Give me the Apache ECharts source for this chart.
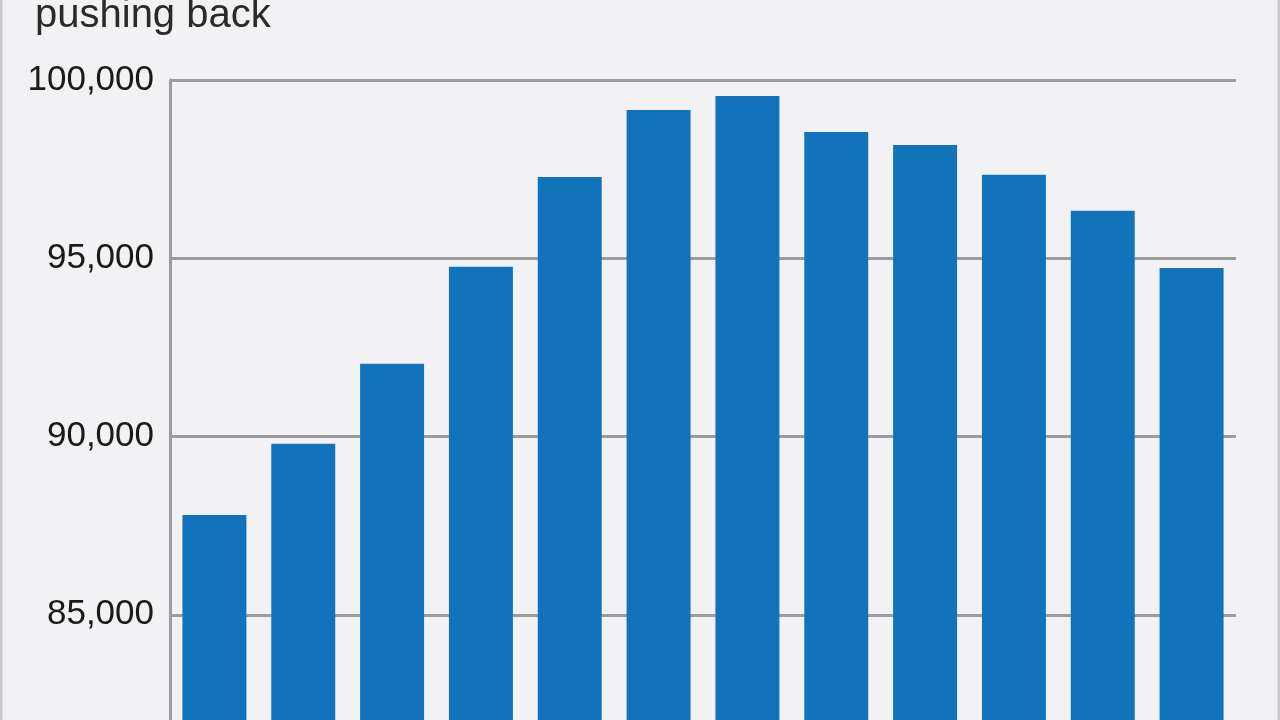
<!DOCTYPE html>
<html>
<head>
<meta charset="utf-8">
<style>
  html, body { margin: 0; padding: 0; background: #f2f2f4; }
  #chart { width: 1280px; height: 720px; }
</style>
<script src="https://cdn.jsdelivr.net/npm/echarts@6/dist/echarts.min.js"></script>
</head>
<body>
<div id="chart"></div>
<script>
const titleText = 'pushing back';
const categories = ['1', '2', '3', '4', '5', '6', '7', '8', '9', '10', '11', '12'];
const values = [87800, 89800, 92040, 94760, 97280, 99160, 99550, 98540, 98180, 97340, 96330, 94730];
const yMin = 80000;
const yMax = 100000;
const yStep = 5000;

const chart = echarts.init(document.getElementById('chart'), null, { renderer: 'canvas' });
chart.setOption({
  backgroundColor: '#f2f2f4',
  animation: false,
  title: {
    text: titleText,
    left: 35,
    top: -4,
    padding: 0,
    textStyle: {
      fontFamily: 'Liberation Sans',
      fontSize: 40,
      fontWeight: 'normal',
      color: '#2a2a2a'
    }
  },
  graphic: [
    { type: 'line', shape: { x1: 1, y1: 0, x2: 1, y2: 720 }, style: { stroke: '#c9c9cc', lineWidth: 3 } },
    { type: 'line', shape: { x1: 1279, y1: 0, x2: 1279, y2: 720 }, style: { stroke: '#c9c9cc', lineWidth: 3 } }
  ],
  grid: { left: 170, right: 44, top: 80, height: 713, containLabel: false, outerBoundsMode: 'none' },
  xAxis: {
    type: 'category',
    data: categories,
    axisLine: { show: false },
    axisTick: { show: false },
    axisLabel: { show: false }
  },
  yAxis: {
    type: 'value',
    min: yMin,
    max: yMax,
    interval: yStep,
    axisLine: { show: true, lineStyle: { color: '#9c9c9e', width: 3 } },
    axisTick: { show: false },
    splitLine: { show: true, lineStyle: { color: '#9c9c9e', width: 3 } },
    axisLabel: {
      fontFamily: 'Liberation Sans',
      fontSize: 35,
      color: '#1a1a1a',
      margin: 16,
      padding: [8, 0, 0, 0],
      formatter: v => v.toLocaleString('en-US')
    }
  },
  series: [{
    type: 'bar',
    data: values,
    barCategoryGap: '28%',
    itemStyle: { color: '#1173bb' }
  }]
});
</script>
</body>
</html>
